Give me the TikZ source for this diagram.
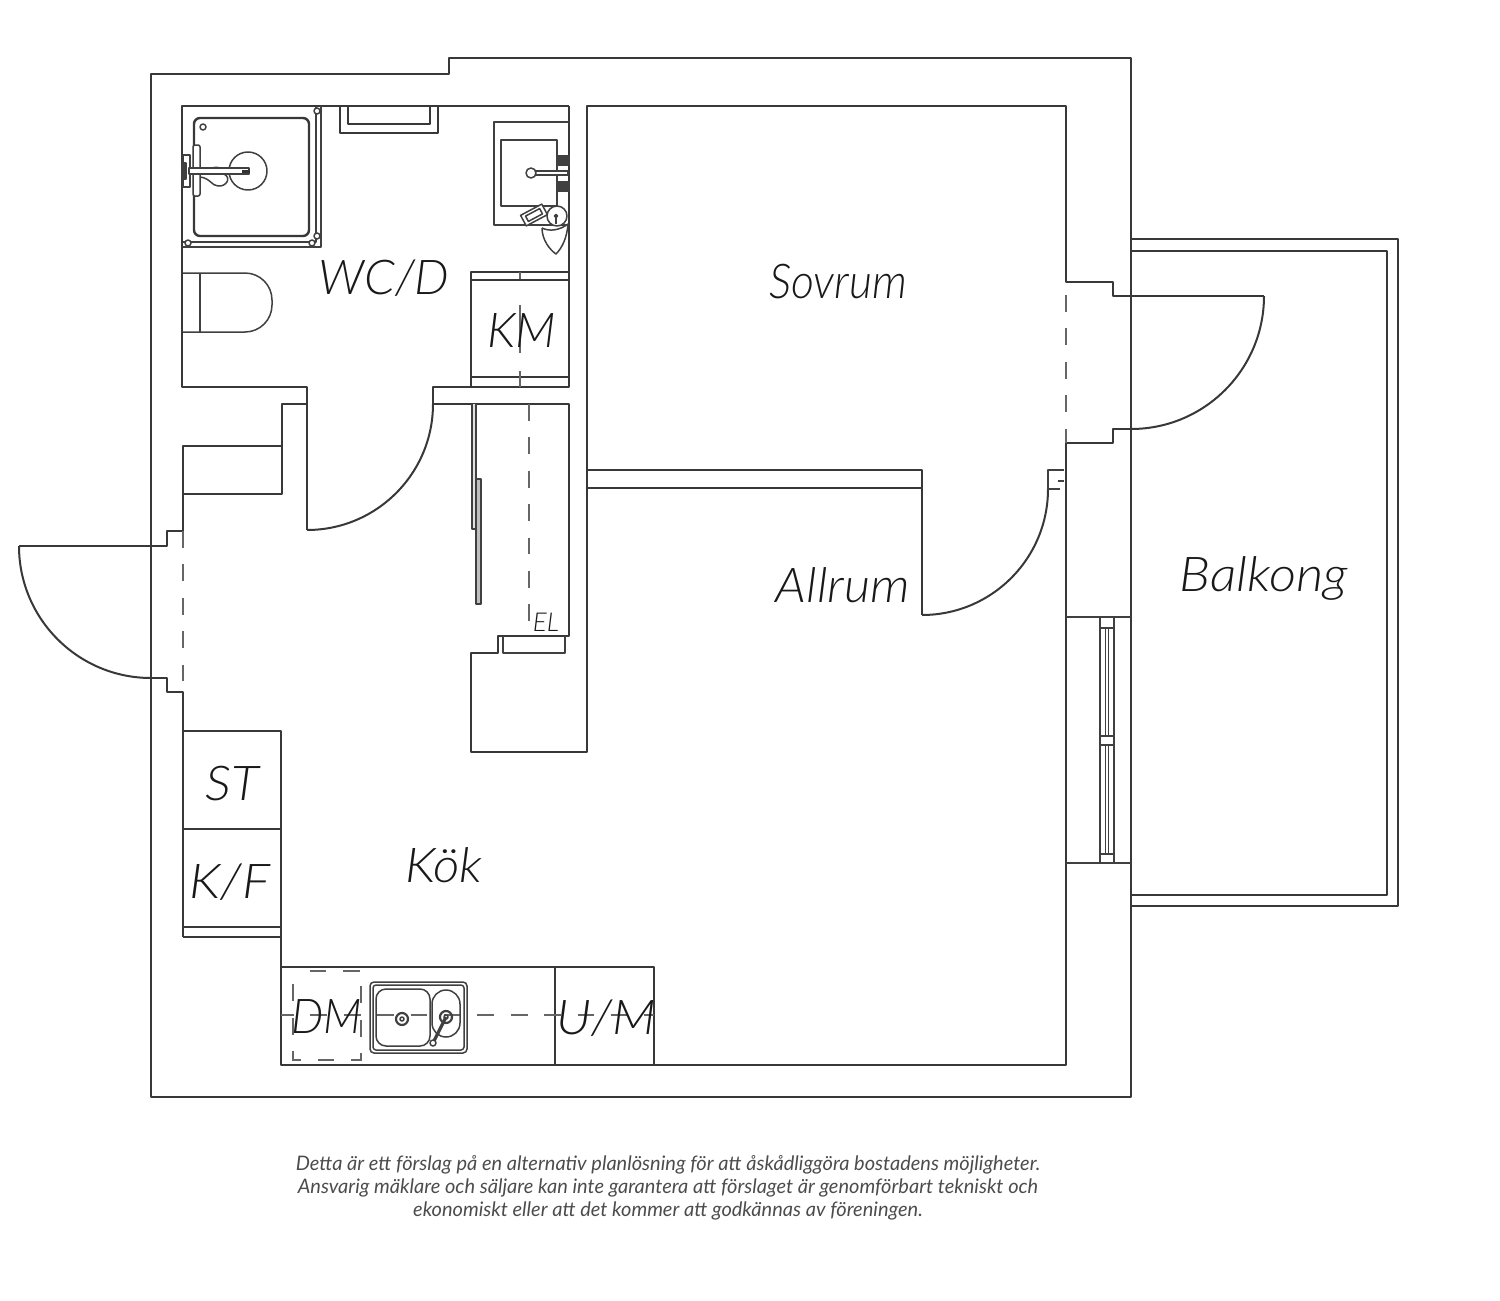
\documentclass[tikz,border=0pt]{standalone}
\usepackage{fontspec}
\setmainfont{Lato}[UprightFont=* Light,ItalicFont=* Light Italic]
\newfontfamily\capf{Lato}
\tikzset{
  wall/.style={draw=black!78,line width=1pt,line join=round},
  thin/.style={draw=black!75,line width=0.75pt,line join=round},
  dsh/.style={draw=black!60,line width=0.9pt,dash pattern=on 8.4pt off 8.3pt},
  room/.style={inner sep=0pt,text=black!90,font=\fontsize{24}{24}\selectfont\itshape},
  note/.style={inner sep=0pt,text=black!70,align=center,font=\capf\fontsize{10}{11.5}\selectfont\itshape}
}
\begin{document}
\begin{tikzpicture}[x=0.5pt,y=-0.5pt]
\useasboundingbox (0,0) rectangle (1500,1301);
% outer shell
\draw[wall] (151,74)--(449,74)--(449,58)--(1131,58)--(1131,1097)--(151,1097)--cycle;
% bathroom and entrance walls
\draw[wall] (569,106)--(182,106)--(182,387)--(307,387)--(307,530);
\draw[wall] (307,404)--(282,404)--(282,494)--(183,494)--(183,446)--(282,446);
\draw[wall] (183,494)--(183,531)--(167,531)--(167,546)--(19,546);
\draw[wall] (19,546) arc[start angle=180,end angle=90,radius=132];
\draw[wall] (151,678)--(167,678)--(167,692)--(183,692)--(183,937);
\draw[wall] (307,530) arc[start angle=90,end angle=0,radius=126];
\draw[wall] (433,404)--(433,387)--(569,387)--(569,106);
\draw[wall] (433,404)--(569,404)--(569,636)--(498,636)--(498,653)--(471,653)--(471,752)--(587,752)--(587,106)--(1066,106)--(1066,282)--(1113,282)--(1113,296)--(1264,296);
\draw[wall] (1264,296) arc[start angle=0,end angle=90,radius=133];
\draw[wall] (1131,429)--(1113,429)--(1113,443)--(1066,443)--(1066,1065)--(281,1065)--(281,731)--(183,731);
% partition and second door
\draw[wall] (587,470)--(922,470)--(922,615);
\draw[wall] (587,488)--(922,488);
\draw[wall] (922,615) arc[start angle=90,end angle=0,radius=126];
\draw[thin] (1064,470)--(1048,470)--(1048,489)--(1060,489) (1058,481)--(1064,481);
% door sills
\draw[dsh] (183,531)--(183,692);
\draw[dsh] (1066,295)--(1066,443);
% balcony
\draw[wall] (1131,239)--(1398,239)--(1398,906)--(1131,906);
\draw[wall] (1131,251)--(1387,251)--(1387,895)--(1131,895);
% window
\draw[thin] (1066,617)--(1131,617) (1066,863)--(1131,863);
\draw[thin] (1100,617)--(1100,863) (1114,617)--(1114,863);
\draw[thin] (1100,628)--(1114,628) (1100,736)--(1114,736) (1100,745)--(1114,745) (1100,854)--(1114,854);
\draw[thin] (1105.5,628)--(1105.5,736) (1108.5,628)--(1108.5,736) (1105.5,745)--(1105.5,854) (1108.5,745)--(1108.5,854);
% kitchen units
\draw[wall] (183,829)--(281,829) (183,927)--(281,927) (183,937)--(281,937);
\draw[wall] (281,967)--(654,967)--(654,1065) (555,967)--(555,1065);
\draw[dsh,dash phase=2pt] (281,1015)--(654,1015);
\draw[dsh,dash phase=8.4pt] (293,971)--(361,971)--(361,1060)--(293,1060)--cycle;
% sink
\draw[thin,rounded corners=2pt] (370,982) rectangle (467,1053);
\draw[thin,rounded corners=1.5pt] (373,985) rectangle (464,1050);
\draw[thin,rounded corners=5pt] (376,989) rectangle (430,1046);
\draw[thin,rounded corners=7pt] (432,990) rectangle (460,1037);
\draw[thin,line width=1.1pt] (402,1019) circle[radius=6] (446,1017) circle[radius=6];
\draw[thin] (402,1019) circle[radius=2] (446,1017) circle[radius=2];
\draw[thin,line width=1.6pt] (446,1017)--(434,1041);
\draw[thin,fill=white] (433,1043) circle[radius=3];
% shower
\draw[thin] (183,242)--(316,242)--(316,106) (183,247)--(321,247)--(321,106);
\draw[wall,line width=1.2pt,rounded corners=3pt] (194,118) rectangle (309,236);
\draw[thin] (203,127) circle[radius=3] (248,171) circle[radius=19];
\draw[thin,fill=white] (317,111) circle[radius=3] (317,236) circle[radius=3] (188,243) circle[radius=3] (312,243) circle[radius=3];
\draw[thin] (209,174) .. controls (210,165) and (222,165) .. (224,174) .. controls (232,178) and (226,187) .. (218,186) .. controls (212,186) and (210,178) .. (200,177);
\draw[thin,fill=white] (183,155) rectangle (190,187);
\draw[thin,fill=white,rounded corners=1pt] (193,145) rectangle (200,196);
\draw[thin,fill=black!75] (182,163) rectangle (186,179);
\draw[thin,fill=white] (189,168) rectangle (249,174);
\fill[black!80] (242,169.5) rectangle (250,172.5);
% ceiling panel
\draw[wall] (340,106)--(340,133)--(438,133)--(438,106);
\draw[wall] (348,106)--(348,124)--(430,124)--(430,106);
% wash stand
\draw[thin] (569,122)--(494,122)--(494,225)--(569,225);
\draw[thin] (501,140) rectangle (557,206);
\draw[thin,fill=black!75] (557,156) rectangle (569,165) (557,182) rectangle (569,191);
\draw[thin,fill=white] (535,171) rectangle (568,175);
\draw[thin,fill=white] (531,173) circle[radius=5];
\draw[thin,fill=white,rotate around={28:(534,215)}] (522,209) rectangle (546,221);
\draw[thin,rotate around={28:(534,215)}] (526,212) rectangle (542,218);
\draw[thin,fill=white] (557,216) circle[radius=10];
\draw[thin,fill=white] (542,228) .. controls (542,240) and (550,250) .. (556,254) .. controls (562,248) and (567,238) .. (568,224) .. controls (560,230) and (550,232) .. (542,228);
\draw[thin,fill=black!75] (556,216) circle[radius=1.5];
\draw[thin] (556,216)--(556,224);
% toilet
\draw[thin] (183,273)--(245,273) arc[start angle=-90,end angle=0,radius=27] --(272,305) arc[start angle=0,end angle=90,radius=27] --(183,332);
\draw[thin] (200,273)--(200,332);
% washing machine
\draw[wall] (471,387)--(471,272)--(569,272) (471,280)--(569,280) (471,377)--(569,377);
\draw[thin,draw=black!60] (520,272)--(520,279) (520,305)--(520,353) (520,371)--(520,387);
% wardrobe
\draw[thin,fill=black!12] (472,404)--(472,529)--(476,529)--(476,404);
\draw[thin,fill=black!25] (476,479) rectangle (481,604);
\draw[dsh] (529,404)--(529,636);
\draw[thin] (503,636)--(503,653)--(565,653)--(565,636);
% texts
\node[room] (wc) at (384,278) {\scalebox{1.02}[1]{WC/D}};
\node[room] (sov) at (838,282) {\scalebox{0.93}[1]{Sovrum}};
\node[room] (km) at (522,330) {KM};
\node[room] (all) at (843,585) {\scalebox{1.055}[1]{Allrum}};
\node[room] (bal) at (1264,578) {\scalebox{1.1}[1]{Balkong}};
\node[room] (st) at (232,784) {\scalebox{1.08}[1]{ST}};
\node[room] (kf) at (230,882) {\scalebox{1.1}[1]{K/F}};
\node[room] (kok) at (444,865) {\scalebox{1.07}[1]{Kök}};
\node[room] (dm) at (327,1017) {\scalebox{0.95}[1]{DM}};
\node[room] (um) at (606,1018) {\scalebox{1.08}[1]{U/M}};
\node[room,font=\fontsize{13}{13}\selectfont\itshape] (el) at (546,622) {EL};
\node[note] (cap) at (668,1188) {Detta är ett förslag på en alternativ planlösning för att åskådliggöra bostadens möjligheter.\\Ansvarig mäklare och säljare kan inte garantera att förslaget är genomförbart tekniskt och\\ekonomiskt eller att det kommer att godkännas av föreningen.};
\end{tikzpicture}
\end{document}
